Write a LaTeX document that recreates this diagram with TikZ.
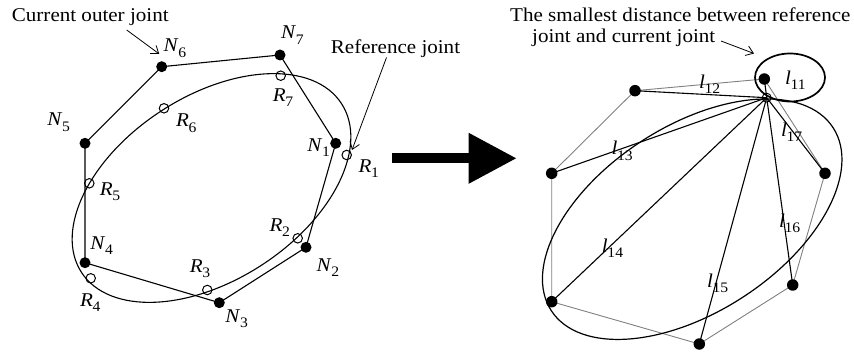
\documentclass[tikz,border=0pt]{standalone}
\usepackage{fontspec}
\setmainfont{Liberation Serif}[FakeStretch=1.08]
\usetikzlibrary{arrows.meta}
\newcommand{\jl}[2]{\textit{#1}\kern-0.3pt\raisebox{-0.27em}{\fontsize{14.5}{15}\selectfont #2}}
\begin{document}
\begin{tikzpicture}[x=1pt,y=-1pt,
  txt/.style={font=\fontsize{19.5}{20.6}\selectfont, inner sep=0pt},
  lab/.style={font=\fontsize{19.5}{22}\selectfont, inner sep=0pt},
  dot/.style={circle,fill=black,inner sep=0pt,minimum size=11pt},
  rdot/.style={circle,draw=black,line width=1pt,inner sep=0pt,minimum size=9.5pt},
  bline/.style={line width=1.1pt},
  gline/.style={draw=black!50,line width=0.9pt},
  annot/.style={line width=0.8pt,-{Straight Barb[length=7pt,width=10pt]}},
]
\useasboundingbox (0,0) rectangle (854,355);

% ---------------- left figure ----------------
\draw[bline, shift={(211.5,188)}, rotate=33] (0,0) ellipse [x radius=155pt, y radius=92pt];

\node[dot] (N1) at (335.7,143.3) {};
\node[dot] (N2) at (306,247.3) {};
\node[dot] (N3) at (219.3,302.7) {};
\node[dot] (N4) at (85,262.7) {};
\node[dot] (N5) at (85,143.3) {};
\node[dot] (N6) at (161.7,66.7) {};
\node[dot] (N7) at (280,55) {};
\draw[bline] (N1.center) -- (N2.center) -- (N3.center) -- (N4.center) -- (N5.center) -- (N6.center) -- (N7.center) -- cycle;

\node[rdot] (R1) at (346.7,155) {};
\node[rdot] (R2) at (297.7,238.3) {};
\node[rdot] (R3) at (207.3,290) {};
\node[rdot] (R4) at (90.7,278.3) {};
\node[rdot] (R5) at (89.3,183.3) {};
\node[rdot] (R6) at (164,108.3) {};
\node[rdot] (R7) at (280.7,75.7) {};

\node[lab] at (292.3,35) {\jl{N}{7}};
\node[lab] at (175,48.3) {\jl{N}{6}};
\node[lab] at (58.7,122.3) {\jl{N}{5}};
\node[lab] at (101.7,245.7) {\jl{N}{4}};
\node[lab] at (236.7,319) {\jl{N}{3}};
\node[lab] at (328,267.3) {\jl{N}{2}};
\node[lab] at (318.7,147.3) {\jl{N}{1}};
\node[lab] at (283,97.3) {\jl{R}{7}};
\node[lab] at (186.3,123.3) {\jl{R}{6}};
\node[lab] at (110,191.7) {\jl{R}{5}};
\node[lab] at (90.3,302.3) {\jl{R}{4}};
\node[lab] at (200,269) {\jl{R}{3}};
\node[lab] at (279.7,227.3) {\jl{R}{2}};
\node[lab] at (368.7,168.7) {\jl{R}{1}};

\node[txt, anchor=base west] (cur) at (11.7,21.7) {Current outer joint};
\coordinate (curs) at (126.7,30);
\coordinate (cure) at (159.3,54);
\draw[annot] (curs) -- (cure);

\node[txt, anchor=base west] (ref) at (330.7,53.3) {Reference joint};
\coordinate (refs) at (386.5,57.5);
\coordinate (refe) at (352,150);
\draw[annot] (refs) -- (refe);

% ---------------- big arrow ----------------
\coordinate (as) at (392,158.3);
\coordinate (ae) at (516.7,158.3);
\draw[line width=10pt, -{Triangle[length=48pt,width=48pt]}] (as) -- (ae);

% ---------------- right figure ----------------
\coordinate (M1) at (825,173.3);
\coordinate (M2) at (792.7,285);
\coordinate (M3) at (699.3,344);
\coordinate (M4) at (551.7,301.7);
\coordinate (M5) at (551.7,173.3);
\coordinate (M6) at (635,90.7);
\coordinate (M7) at (764.3,79);
\draw[gline] (M1) -- (M2) -- (M3) -- (M4) -- (M5) -- (M6) -- (M7) -- cycle;

\node[circle,draw=black,line width=0.9pt,inner sep=0pt,minimum size=9pt] (RR) at (766.7,97.7) {};
\foreach \m in {M1,M2,M3,M4,M5,M6,M7}
  \draw[bline] (RR.center) -- (\m);

\draw[line width=1.2pt, shift={(692.2,219.2)}, rotate=33] (0,0) ellipse [x radius=168pt, y radius=93pt];
\draw[line width=1.7pt] (790,77.5) ellipse [x radius=35pt, y radius=24pt];

\foreach \m in {M1,M2,M3,M4,M5,M6,M7}
  \node[dot, minimum size=11.5pt] at (\m) {};

\node[lab] at (795.5,80.5) {\jl{l}{11}};
\node[lab] at (709.7,84.3) {\jl{l}{12}};
\node[lab] at (622.2,150.8) {\jl{l}{13}};
\node[lab] at (612.5,248.3) {\jl{l}{14}};
\node[lab] at (717.7,283.3) {\jl{l}{15}};
\node[lab] at (789.7,223.3) {\jl{l}{16}};
\node[lab] at (791.7,132.5) {\jl{l}{17}};

\node[txt, anchor=north west, align=left] (sm) at (510,8) {The smallest distance between reference\\\hspace*{22pt}joint and current joint};
\coordinate (sms) at (721,41);
\coordinate (sme) at (754,53.5);
\draw[annot] (sms) -- (sme);
\end{tikzpicture}
\end{document}
